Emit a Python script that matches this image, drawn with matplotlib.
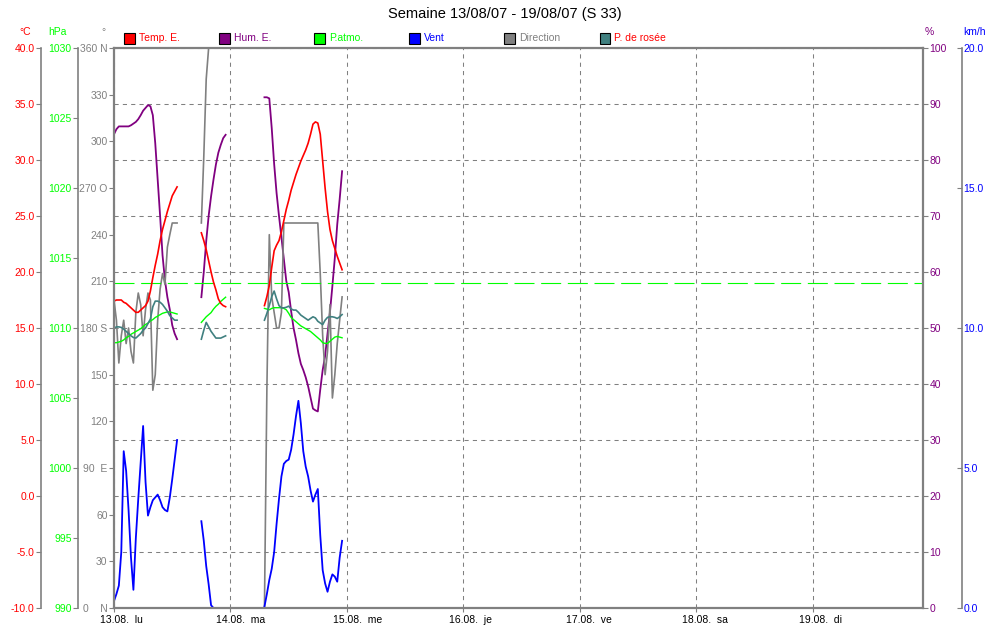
import numpy as np
import matplotlib.pyplot as plt
from matplotlib.patches import Rectangle
from matplotlib.transforms import ScaledTranslation

plt.rcParams['font.family'] = ['Liberation Sans', 'DejaVu Sans']

nan = np.nan

# readings every 30 min, hours since 13.08 00:00 ; nan = recording gap
hours = np.concatenate([np.arange(0, 13.01, 0.5), [nan],
                        np.arange(18, 23.01, 0.5), [nan],
                        np.arange(31, 47.01, 0.5)])

temp = [17.4, 17.5, 17.5, 17.5, 17.3, 17.2, 17.0, 16.8, 16.6, 16.4,
        16.4, 16.6, 16.8, 17.0, 17.4, 18.3, 19.5, 20.6, 21.6, 22.8,
        23.8, 24.6, 25.4, 26.1, 26.8, 27.2, 27.6, nan,
        23.5, 22.8, 22.0, 21.0, 20.0, 19.1, 18.4, 17.6, 17.2, 17.0, 16.9, nan,
        17.0, 17.8, 18.8, 20.4, 21.9, 22.4, 22.8, 23.6, 24.6, 25.6,
        26.4, 27.3, 28.0, 28.7, 29.3, 29.9, 30.4, 30.9, 31.5, 32.3,
        33.2, 33.4, 33.3, 32.3, 29.9, 27.5, 25.4, 23.8, 22.8, 22.1,
        21.4, 20.8, 20.2]

hum = [84.6, 85.5, 86.0, 86.0, 86.0, 86.0, 86.0, 86.2, 86.5, 86.8,
       87.3, 88.0, 88.8, 89.3, 89.8, 89.6, 88.0, 83.0, 76.5, 70.0,
       63.0, 58.5, 55.5, 53.3, 50.5, 49.0, 48.0, nan,
       55.5, 60.0, 65.5, 70.0, 73.5, 76.5, 79.2, 81.3, 82.7, 83.9, 84.5, nan,
       91.2, 91.2, 91.0, 85.7, 79.3, 74.1, 70.0, 66.2, 62.3, 58.4,
       56.4, 53.0, 50.0, 47.9, 45.5, 43.6, 42.5, 41.2, 39.6, 37.6,
       35.6, 35.3, 35.1, 39.0, 42.5, 45.0, 49.0, 52.8, 57.5, 62.5,
       68.5, 73.0, 78.0]

pres = [1008.95, 1008.95, 1009.0, 1009.05, 1009.15, 1009.3, 1009.4, 1009.55, 1009.65, 1009.75,
        1009.85, 1009.95, 1010.1, 1010.25, 1010.35, 1010.5, 1010.6, 1010.75, 1010.85, 1010.95,
        1011.05, 1011.1, 1011.15, 1011.15, 1011.1, 1011.05, 1011.0, nan,
        1010.4, 1010.6, 1010.8, 1010.95, 1011.1, 1011.35, 1011.55, 1011.7, 1011.9, 1012.05, 1012.2, nan,
        1011.4, 1011.35, 1011.3, 1011.4, 1011.45, 1011.45, 1011.45, 1011.45, 1011.4, 1011.3,
        1011.05, 1010.75, 1010.6, 1010.45, 1010.3, 1010.15, 1010.05, 1009.95, 1009.85, 1009.75,
        1009.6, 1009.45, 1009.3, 1009.15, 1008.95, 1008.9, 1008.9, 1009.05, 1009.2, 1009.35,
        1009.4, 1009.35, 1009.3]

wind = [0.25, 0.5, 0.8, 2.0, 5.6, 4.9, 3.5, 1.8, 0.65, 2.5,
        3.9, 5.2, 6.5, 4.5, 3.3, 3.6, 3.85, 3.95, 4.05, 3.85,
        3.6, 3.5, 3.45, 3.95, 4.6, 5.3, 6.0, nan,
        3.1, 2.4, 1.5, 0.85, 0.1, 0, 0, 0, 0, 0, 0, nan,
        0.05, 0.5, 1.0, 1.4, 2.0, 3.0, 3.9, 4.7, 5.15, 5.25,
        5.3, 5.65, 6.2, 6.85, 7.4, 6.6, 5.6, 5.05, 4.7, 4.2,
        3.8, 4.05, 4.25, 2.6, 1.35, 0.88, 0.58, 0.94, 1.2, 1.12,
        0.94, 1.8, 2.4]

direction = [198, 185, 157.5, 175, 185, 170, 180, 165, 157.5, 190,
             202.5, 195, 175, 192, 202.5, 198, 140, 150, 185, 205,
             215, 208, 232, 240, 247.5, 247.5, 247.5, nan,
             247.5, 290, 340, 360, 360, 360, 360, 360, 360, 360, 360, nan,
             0, 140, 240, 200, 190, 180, 180, 190, 247.5, 247.5,
             247.5, 247.5, 247.5, 247.5, 247.5, 247.5, 247.5, 247.5, 247.5, 247.5,
             247.5, 247.5, 247.5, 215, 175, 150, 165, 195, 135, 150,
             170, 185, 200]

dew = [15.0, 15.1, 15.1, 15.05, 14.9, 14.7, 14.5, 14.3, 14.15, 14.1,
       14.3, 14.5, 14.8, 15.0, 15.4, 15.8, 16.9, 17.4, 17.4, 17.3,
       17.1, 16.8, 16.5, 16.1, 15.9, 15.7, 15.7, nan,
       14.0, 14.8, 15.5, 15.1, 14.7, 14.4, 14.1, 14.1, 14.1, 14.2, 14.3, nan,
       15.7, 16.3, 17.0, 17.8, 18.3, 17.6, 17.0, 16.8, 16.8, 16.85,
       16.95, 16.7, 16.6, 16.6, 16.4, 16.15, 16.0, 15.85, 15.7, 15.85,
       16.0, 15.9, 15.6, 15.45, 15.3, 15.7, 15.95, 16.0, 16.0, 15.95,
       15.85, 16.0, 16.2]

days = ['13.08.  lu', '14.08.  ma', '15.08.  me', '16.08.  je',
        '17.08.  ve', '18.08.  sa', '19.08.  di']
day_ticks = [0, 24, 48, 72, 96, 120, 144]

red, purple, green, blue, grey, teal = '#ff0000', '#800080', '#00ff00', '#0000ff', '#808080', '#408080'
fs = 7.5

W, H = 1007, 634
fig = plt.figure(figsize=(W / 100, H / 100), dpi=100)
rect = [114 / W, 1 - 608 / H, 809 / W, 560 / H]

# host axis: humidity (%) + grid + dates
ax = fig.add_axes(rect)
ax.set_xlim(0, 166.7)
ax.set_ylim(0, 100)
ax.set_xticks(day_ticks)
ax.set_xticklabels(days, fontsize=fs, ha='left')
ax.tick_params(axis='x', length=3, color=grey, pad=2)
ax.set_yticks(range(0, 101, 10))
ax.yaxis.tick_right()
ax.tick_params(axis='y', color=grey, labelcolor=purple, labelsize=fs, length=3.6, pad=1)
ax.grid(True, color=grey, linestyle=(0, (4, 4)), linewidth=0.75)
for s in ax.spines.values():
    s.set_visible(False)


def overlay(ylim, ticks, labels, side, pos, color, tdir='out'):
    a = fig.add_axes(rect, sharex=ax)
    a.patch.set_visible(False)
    for s in a.spines.values():
        s.set_visible(False)
    a.set_ylim(*ylim)
    a.tick_params(axis='x', bottom=False, labelbottom=False)
    a.yaxis.set_ticks_position(side)
    a.set_yticks(ticks)
    a.set_yticklabels(labels)
    a.tick_params(axis='y', color=grey, labelcolor=color, labelsize=fs,
                  length=3.6, direction=tdir, pad=1)
    if pos is not None:
        sp = a.spines[side]
        sp.set_visible(True)
        sp.set_position(('axes', pos))
        sp.set_color(grey)
        sp.set_linewidth(1.2)
    return a


d_ticks = list(range(0, 361, 30))
d_names = {0: '0    N', 90: '90  E', 180: '180 S', 270: '270 O', 360: '360 N'}
ax_d = overlay((0, 360), d_ticks, [d_names.get(v, str(v)) for v in d_ticks], 'left', None, grey)

p_ticks = list(range(990, 1031, 5))
ax_p = overlay((990, 1030), p_ticks, [str(v) for v in p_ticks], 'left', -0.0445, green)

t_ticks = list(range(-10, 41, 5))
ax_t = overlay((-10, 40), t_ticks, ['%.1f' % v for v in t_ticks], 'left', -0.0902, red)

w_ticks = [0, 5, 10, 15, 20]
ax_w = overlay((0, 20), w_ticks, ['%.1f' % v for v in w_ticks], 'right', 1.048, blue, tdir='in')

ax.plot(hours, hum, color=purple, lw=1.3)
ax_d.plot(hours, direction, color=grey, lw=1.2)
ax_p.axhline(1013.25, color=green, lw=0.8, linestyle=(0, (18, 6)))
ax_p.plot(hours, pres, color=green, lw=1.0)
ax_t.plot(hours, dew, color=teal, lw=1.2)
ax_t.plot(hours, temp, color=red, lw=1.2)
ax_w.plot(hours, wind, color=blue, lw=1.3)

# frame on top of everything
frame = fig.add_axes(rect, zorder=20)
frame.patch.set_visible(False)
frame.set_xticks([])
frame.set_yticks([])
for s in frame.spines.values():
    s.set_color(grey)
    s.set_linewidth(1.6)

# titles of the axes
for x, txt, c in [(25, '°C', red), (57, 'hPa', green), (103, '°', grey),
                  (929, '%', purple), (975, 'km/h', blue)]:
    fig.text(x / W, 1 - 32 / H, txt, color=c, fontsize=fs, ha='center', va='center')

# legend
items = [('Temp. E.', red, red), ('Hum. E.', purple, purple), ('P.atmo.', green, green),
         ('Vent', blue, blue), ('Direction', grey, grey), ('P. de rosée', teal, red)]
for i, (txt, fc, tc) in enumerate(items):
    sx = 124 + 95.1 * i
    fig.add_artist(Rectangle((sx / W, 1 - 43.5 / H), 10.5 / W, 10.5 / H,
                             transform=fig.transFigure, facecolor=fc, edgecolor='black', lw=0.8))
    fig.text((sx + 15) / W, 1 - 38 / H, txt, color=tc, fontsize=fs, va='center')

fig.text(505 / W, 1 - 14 / H, 'Semaine 13/08/07 - 19/08/07 (S 33)', ha='center', va='center', fontsize=10.5)

# date labels start a little left of their day line
fig.canvas.draw()
shift = ScaledTranslation(-0.14, 0, fig.dpi_scale_trans)
for lab in ax.get_xticklabels():
    lab.set_transform(lab.get_transform() + shift)

fig.savefig('out.png', dpi=100)
